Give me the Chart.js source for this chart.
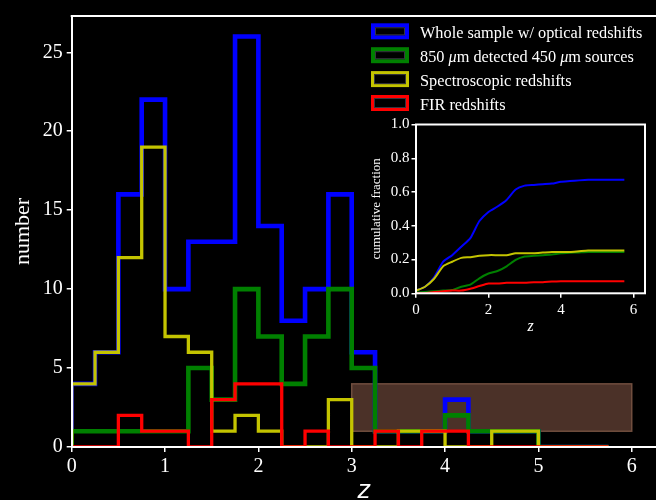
<!DOCTYPE html>
<html>
<head>
<meta charset="utf-8">
<script src="https://cdn.jsdelivr.net/npm/chart.js@4.4.1/dist/chart.umd.min.js"></script>
<style>
  html, body { margin: 0; padding: 0; background: #000; width: 656px; height: 500px; overflow: hidden; }
  #main { position: absolute; left: 0; top: 0; }
  #inset { position: absolute; left: 355px; top: 112px; }
</style>
</head>
<body>
<canvas id="main" width="656" height="500"></canvas>
<canvas id="inset" width="301" height="228"></canvas>
<script>
// Redshift bins (edges, width 0.25)
const binEdges = [0, 0.25, 0.5, 0.75, 1, 1.25, 1.5, 1.75, 2, 2.25, 2.5, 2.75, 3,
                  3.25, 3.5, 3.75, 4, 4.25, 4.5, 4.75, 5, 5.25, 5.5, 5.75];

// Counts per bin
const wholeSample   = [4, 6, 16, 22, 10, 13, 13, 26, 14, 8, 10, 16, 6, 1, 1, 1, 3, 1, 1, 1, 0, 0, 0];
const detected850   = [1, 1, 1, 1, 1, 5, 3, 10, 7, 4, 7, 10, 5, 1, 1, 1, 2, 1, 1, 1, 0, 0, 0];
const spectroscopic = [4, 6, 12, 19, 7, 6, 1, 2, 1, 0, 0, 3, 0, 0, 1, 1, 0, 0, 1, 1, 0, 0, 0];
const firRedshifts  = [0, 0, 2, 1, 1, 0, 3, 4, 4, 0, 1, 0, 0, 1, 0, 1, 1, 0, 0, 0, 0, 0, 0];

// Cumulative fractions (inset)
const cumZ     = [0, 0.25, 0.5, 0.75, 1, 1.25, 1.5, 1.75, 2, 2.25, 2.5, 2.75, 3,
                  3.25, 3.5, 3.75, 4, 4.25, 4.5, 4.75, 5, 5.25, 5.5, 5.75];
const cumWhole = [0.016, 0.039, 0.095, 0.187, 0.226, 0.276, 0.327, 0.428, 0.482, 0.514, 0.553, 0.615,
                  0.638, 0.642, 0.646, 0.650, 0.661, 0.665, 0.669, 0.672, 0.672, 0.672, 0.672, 0.672];
const cumDet   = [0.004, 0.008, 0.012, 0.016, 0.019, 0.039, 0.051, 0.089, 0.117, 0.132, 0.160, 0.198,
                  0.218, 0.222, 0.226, 0.230, 0.237, 0.240, 0.242, 0.244, 0.244, 0.244, 0.244, 0.244];
const cumSpec  = [0.016, 0.039, 0.086, 0.160, 0.187, 0.210, 0.214, 0.222, 0.226, 0.226, 0.226, 0.237,
                  0.237, 0.237, 0.241, 0.245, 0.245, 0.245, 0.249, 0.253, 0.253, 0.253, 0.253, 0.253];
const cumFir   = [0.000, 0.000, 0.008, 0.012, 0.016, 0.016, 0.027, 0.043, 0.058, 0.058, 0.062, 0.062,
                  0.062, 0.066, 0.066, 0.070, 0.072, 0.072, 0.072, 0.072, 0.072, 0.072, 0.072, 0.072];

// Tick values
const mainXTicks  = [0, 1, 2, 3, 4, 5, 6];
const mainYTicks  = [0, 5, 10, 15, 20, 25];
const insetXTicks = [0, 2, 4, 6];
const insetYTicks = [0, 0.2, 0.4, 0.6, 0.8, 1.0];

// Shaded region (z range, count range)
const shadedZ = [3, 6];
const shadedN = [1, 4];

// Legend entries
const legendLabels = [
  [{t: 'Whole sample w/ optical redshifts'}],
  [{t: '850 '}, {t: '\u03bc', it: true}, {t: 'm detected 450 '}, {t: '\u03bc', it: true}, {t: 'm sources'}],
  [{t: 'Spectroscopic redshifts'}],
  [{t: 'FIR redshifts'}]
];

const COLORS = { blue: '#0000ff', green: '#008000', yellow: '#c4c400', red: '#ff0000' };
const SERIF = '"Liberation Serif", "Times New Roman", serif';

function stepOutline(edges, counts) {
  const pts = [{x: edges[0], y: 0}];
  counts.forEach((c, i) => pts.push({x: edges[i], y: c}));
  pts.push({x: edges[edges.length - 1], y: counts[counts.length - 1]});
  pts.push({x: edges[edges.length - 1], y: 0});
  return pts;
}

function histSet(counts, color, width, order) {
  return {
    data: stepOutline(binEdges, counts),
    borderColor: color,
    borderWidth: width,
    stepped: 'before',
    pointRadius: 0,
    fill: false,
    order: order,
    borderJoinStyle: 'miter',
    borderCapStyle: 'butt',
    clip: {left: 0, top: 10, right: 10, bottom: 0}
  };
}

const mainDecor = {
  id: 'mainDecor',
  beforeDatasetsDraw(chart) {
    const {ctx, scales: {x, y}} = chart;
    const x0 = x.getPixelForValue(shadedZ[0]), x1 = x.getPixelForValue(shadedZ[1]);
    const y0 = y.getPixelForValue(shadedN[1]), y1 = y.getPixelForValue(shadedN[0]);
    ctx.save();
    ctx.fillStyle = 'rgb(75,49,40)';
    ctx.fillRect(x0, y0, x1 - x0, y1 - y0);
    ctx.strokeStyle = 'rgb(112,78,62)';
    ctx.lineWidth = 1.5;
    ctx.strokeRect(x0, y0, x1 - x0, y1 - y0);
    ctx.restore();
  },
  afterDraw(chart) {
    const {ctx, chartArea} = chart;
    ctx.save();
    // top spine
    ctx.strokeStyle = '#fff';
    ctx.lineWidth = 2;
    ctx.beginPath();
    ctx.moveTo(chartArea.left - 1, chartArea.top);
    ctx.lineTo(chartArea.right, chartArea.top);
    ctx.stroke();
    // legend
    const colors = [COLORS.blue, COLORS.green, COLORS.yellow, COLORS.red];
    const widths = [4, 4, 3, 3];
    const fs = 16.3;
    legendLabels.forEach((parts, i) => {
      const cy = 31.3 + i * 23.9;
      ctx.strokeStyle = colors[i];
      ctx.lineWidth = widths[i];
      const w = widths[i] / 2;
      ctx.strokeRect(371 + w, cy - 8 + w, 38 - 2 * w, 16 - 2 * w);
      ctx.strokeStyle = 'rgba(60,60,70,0.9)';
      ctx.lineWidth = 1;
      ctx.strokeRect(371 + 2 * w + 0.5, cy - 8 + 2 * w + 0.5, 38 - 4 * w - 1, 16 - 4 * w - 1);
      let tx = 420;
      ctx.fillStyle = '#fff';
      ctx.textBaseline = 'alphabetic';
      parts.forEach(p => {
        ctx.font = (p.it ? 'italic ' : '') + fs + 'px ' + SERIF;
        ctx.fillText(p.t, tx, cy + 6.8);
        tx += ctx.measureText(p.t).width;
      });
    });
    ctx.restore();
  }
};

new Chart(document.getElementById('main'), {
  type: 'line',
  data: {
    datasets: [
      histSet(wholeSample, COLORS.blue, 4.6, 4),
      histSet(detected850, COLORS.green, 4.6, 3),
      histSet(spectroscopic, COLORS.yellow, 3.3, 2),
      histSet(firRedshifts, COLORS.red, 3.3, 1)
    ]
  },
  options: {
    responsive: false,
    animation: false,
    devicePixelRatio: 1,
    layout: { padding: { top: 10.7, right: 0, left: 0, bottom: 0 } },
    plugins: { legend: { display: false }, tooltip: { enabled: false } },
    scales: {
      x: {
        type: 'linear', min: 0, max: 6.26,
        afterBuildTicks: s => { s.ticks = mainXTicks.map(v => ({value: v})); },
        afterFit: s => { s.height = 53; },
        grid: { display: true, drawOnChartArea: false, drawTicks: true, tickLength: 5, color: '#fff', lineWidth: 1.5, z: 1 },
        border: { display: true, color: '#fff', width: 2, z: 1 },
        ticks: { color: '#fff', font: { family: SERIF, size: 20 }, padding: 3, maxRotation: 0, autoSkip: false },
        title: { display: true, text: 'z', color: '#fff',
                 font: { family: '"DejaVu Sans", sans-serif', style: 'italic', size: 24, lineHeight: 0.5 },
                 padding: { top: 0, bottom: 2 } }
      },
      y: {
        type: 'linear', min: 0, max: 27.3,
        afterBuildTicks: s => { s.ticks = mainYTicks.map(v => ({value: v})); },
        afterFit: s => { s.width = 71.7; },
        grid: { display: true, drawOnChartArea: false, drawTicks: true, tickLength: 5, color: '#fff', lineWidth: 1.5, z: 1 },
        border: { display: true, color: '#fff', width: 2, z: 1 },
        ticks: { color: '#fff', font: { family: SERIF, size: 20 }, padding: 4, autoSkip: false },
        title: { display: true, text: 'number', color: '#fff',
                 font: { family: SERIF, size: 22, lineHeight: 1.2 },
                 padding: { top: 10, bottom: 0 } }
      }
    }
  },
  plugins: [mainDecor]
});

const insetFrame = {
  id: 'insetFrame',
  afterDatasetsDraw(chart) {
    const {ctx, chartArea: a} = chart;
    ctx.save();
    ctx.strokeStyle = '#fff';
    ctx.lineWidth = 2;
    ctx.strokeRect(a.left, a.top, a.right - a.left, a.bottom - a.top);
    ctx.restore();
  }
};

function cumSet(vals, color) {
  return {
    data: cumZ.map((z, i) => ({x: z, y: vals[i]})),
    borderColor: color, borderWidth: 2, pointRadius: 0, fill: false, tension: 0.2
  };
}

new Chart(document.getElementById('inset'), {
  type: 'line',
  data: {
    datasets: [
      cumSet(cumFir, COLORS.red),
      cumSet(cumSpec, COLORS.yellow),
      cumSet(cumDet, COLORS.green),
      cumSet(cumWhole, COLORS.blue)
    ]
  },
  options: {
    responsive: false,
    animation: false,
    devicePixelRatio: 1,
    layout: { padding: { top: 12.5, right: 11, left: 0, bottom: 0 } },
    plugins: { legend: { display: false }, tooltip: { enabled: false } },
    scales: {
      x: {
        type: 'linear', min: 0, max: 6.32,
        afterBuildTicks: s => { s.ticks = insetXTicks.map(v => ({value: v})); },
        afterFit: s => { s.height = 46.7; },
        grid: { display: true, drawOnChartArea: false, drawTicks: true, tickLength: 4.5, color: '#fff', lineWidth: 1.5 },
        border: { display: false },
        ticks: { color: '#fff', font: { family: SERIF, size: 15 }, padding: 3, maxRotation: 0, autoSkip: false },
        title: { display: true, text: 'z', color: '#fff',
                 font: { family: SERIF, style: 'italic', size: 16, lineHeight: 1 },
                 padding: { top: 0, bottom: 5 } }
      },
      y: {
        type: 'linear', min: 0, max: 1,
        afterBuildTicks: s => { s.ticks = insetYTicks.map(v => ({value: v})); },
        afterFit: s => { s.width = 61; },
        grid: { display: true, drawOnChartArea: false, drawTicks: true, tickLength: 4.5, color: '#fff', lineWidth: 1.5 },
        border: { display: false },
        ticks: { color: '#fff', font: { family: SERIF, size: 15 }, padding: 2, autoSkip: false,
                 callback: v => v.toFixed(1) },
        title: { display: true, text: 'cumulative fraction', color: '#fff',
                 font: { family: SERIF, size: 13, lineHeight: 1.2 },
                 padding: { top: 14, bottom: 0 } }
      }
    }
  },
  plugins: [insetFrame]
});
</script>
</body>
</html>
